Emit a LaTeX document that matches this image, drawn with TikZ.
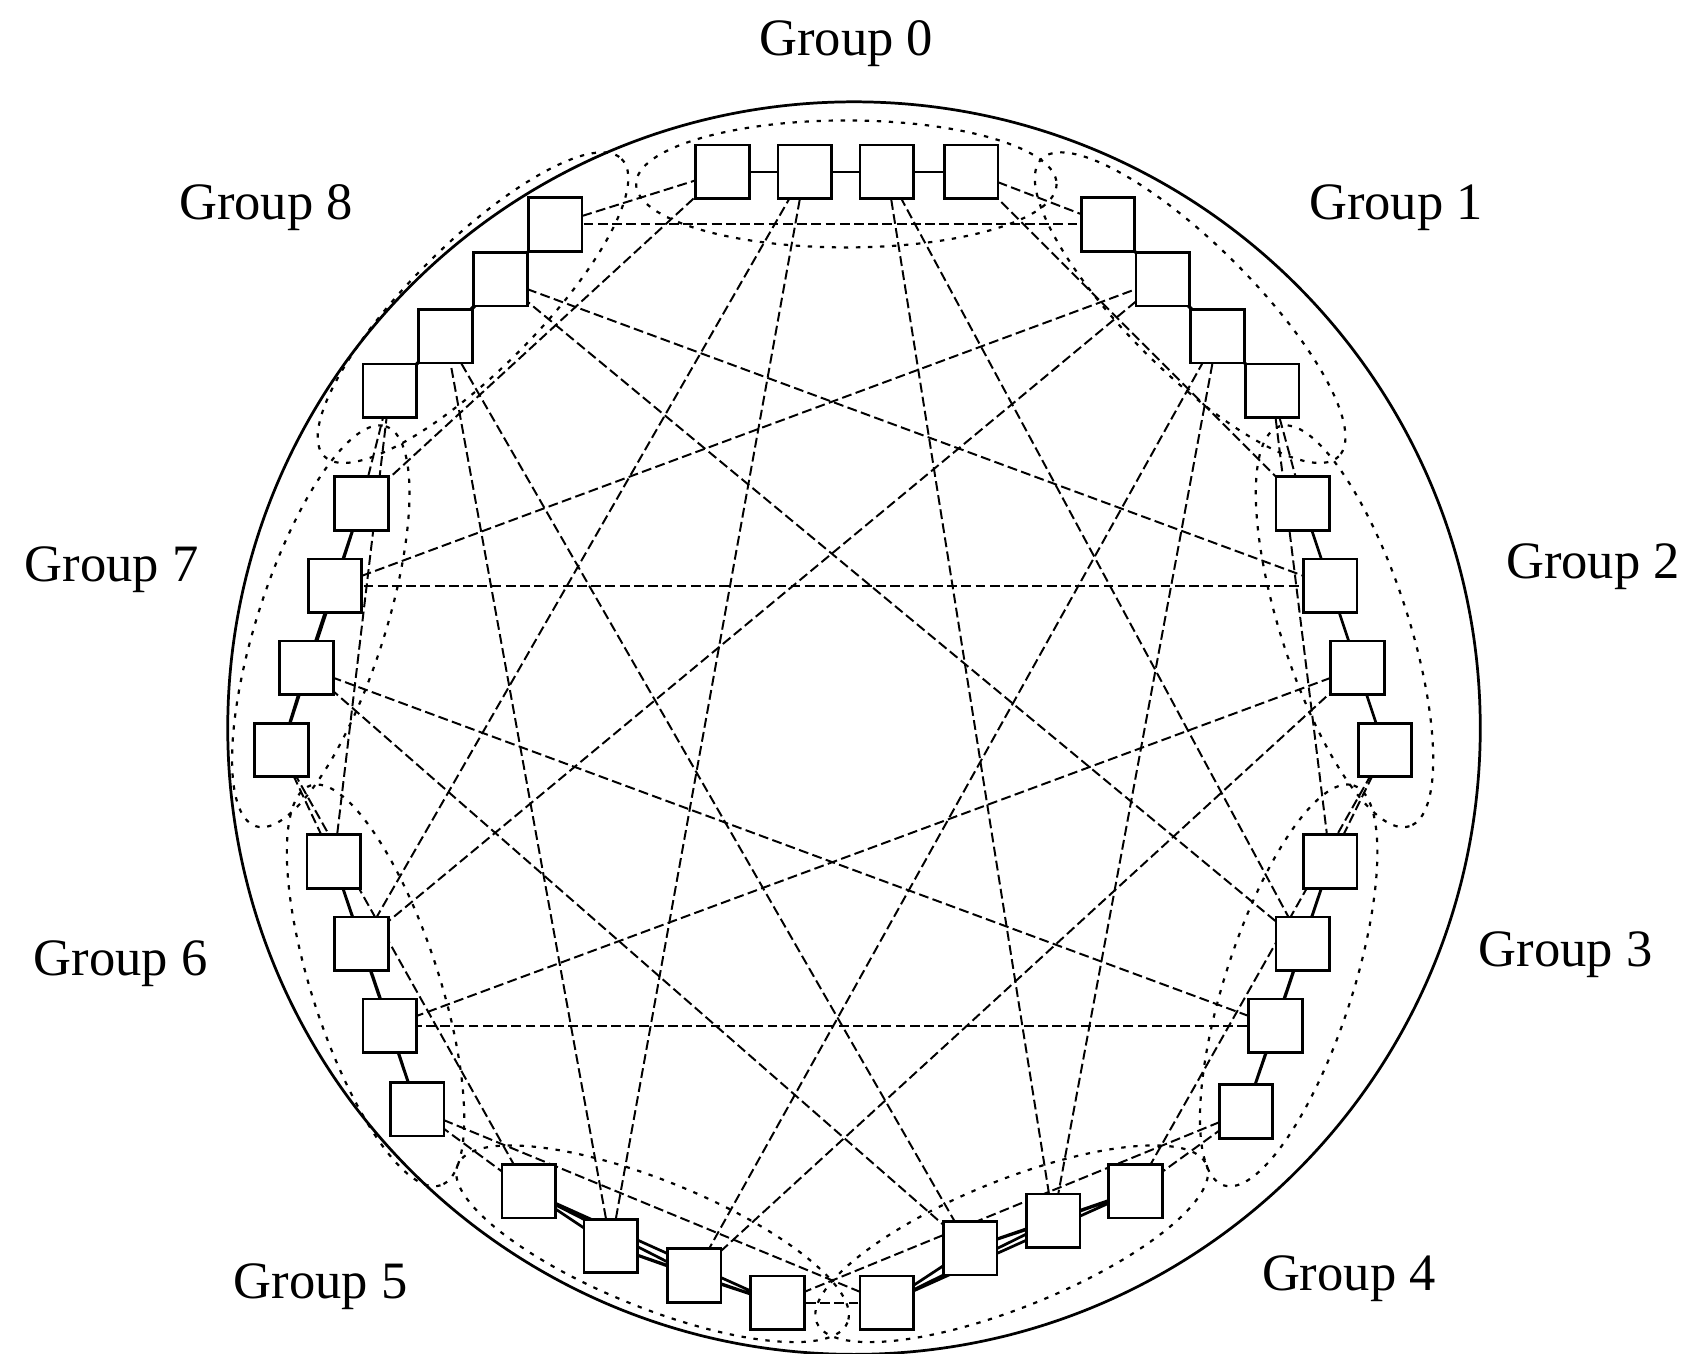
\documentclass[tikz,border=0pt]{standalone}
\usepackage{fontspec}
\setmainfont{Liberation Serif}
\begin{document}
\begin{tikzpicture}[x=1pt,y=-1pt,
  router/.style={draw,fill=white,line width=2.5pt,minimum size=49pt,inner sep=0pt},
  local/.style={line width=2.5pt},
  glob/.style={line width=1.8pt,dash pattern=on 9pt off 4pt},
  outline/.style={line width=2pt,dash pattern=on 4pt off 7pt},
  lbl/.style={font=\fontsize{48}{56}\selectfont}]
\useasboundingbox (0,0) rectangle (1560,1236);
\draw[line width=2.5pt] (780,665) circle (572);
% group outlines
\foreach \cx/\cy/\ang in {773/168/0, 1087/281/-45, 1228/572/-72, 1177/900/72, 924/1136/22, 596/1136/-22, 343/900/-72, 293/572/72, 432/281/45}{
  \draw[outline,rotate around={\ang:(\cx,\cy)}] (\cx,\cy) ellipse (192 and 58);
}
% routers
\foreach \g/\pts in {0/{660/157,735/157,810/157,887/157},
  1/{1012/205,1062/255,1112/307,1162/357},
  2/{1190/460,1215/535,1240/610,1265/685},
  3/{1215/787,1190/862,1165/937,1138/1015},
  4/{1037/1088,962/1115,886/1140,810/1190},
  5/{710/1190,634/1165,558/1138,483/1088},
  6/{381/1013,356/937,330/862,305/787},
  7/{257/685,280/610,306/535,330/460},
  8/{356/357,407/307,457/255,507/205}}{
  \foreach \x/\y [count=\k from 0] in \pts {\coordinate (g\g r\k) at (\x,\y);}
}
% global links
\foreach \i in {0,...,8}{
  \foreach \d in {1,...,4}{
    \pgfmathtruncatemacro{\j}{mod(\i+\d,9)}
    \pgfmathtruncatemacro{\ka}{3-floor((\d-1)/2)}
    \pgfmathtruncatemacro{\kb}{3-floor((8-\d)/2)}
    \draw[glob] (g\i r\ka) -- (g\j r\kb);
  }
}
% local links
\foreach \g in {0,...,8}{
  \draw[local] (g\g r0) -- (g\g r1) -- (g\g r2) -- (g\g r3) (g\g r0) -- (g\g r2) (g\g r1) -- (g\g r3) (g\g r0) -- (g\g r3);
}
\foreach \g in {0,...,8}{\foreach \k in {0,...,3}{\node[router] (n\g r\k) at (g\g r\k) {};}}
\node[lbl] (l0) at (773,40) {Group 0};
\node[lbl] (l1) at (1275,190) {Group 1};
\node[lbl] (l2) at (1455,518) {Group 2};
\node[lbl] (l3) at (1430,872) {Group 3};
\node[lbl] (l4) at (1232,1168) {Group 4};
\node[lbl] (l5) at (293,1175) {Group 5};
\node[lbl] (l6) at (110,880) {Group 6};
\node[lbl] (l7) at (102,520) {Group 7};
\node[lbl] (l8) at (243,190) {Group 8};
\end{tikzpicture}
\end{document}
